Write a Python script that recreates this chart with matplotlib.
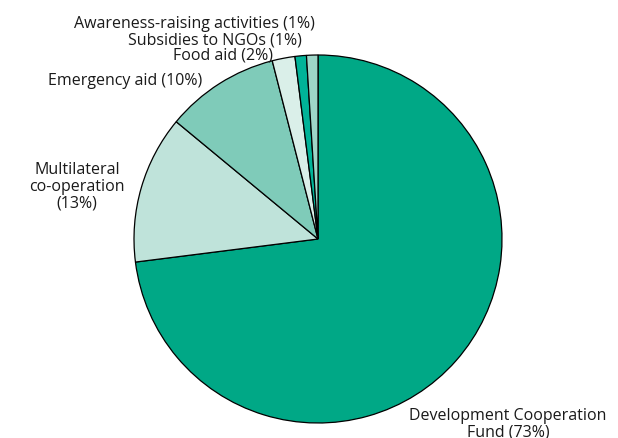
import matplotlib
matplotlib.use("Agg")
import matplotlib.pyplot as plt

# ------------------ Datos ------------------
categorias = ["Development Cooperation\nFund (73%)", "Multilateral\nco-operation\n(13%)",
              "Emergency aid (10%)", "Food aid (2%)", "Subsidies to NGOs (1%)",
              "Awareness-raising activities (1%)"]
valores = [73, 13, 10, 2, 1, 1]
colores = ["#00a886", "#bfe3da", "#7fcbb9", "#daefe9", "#00b398", "#9ed6c8"]

# posiciones de etiquetas (pixeles, y desde abajo) y alineacion
pos_etiquetas = [(508, 15, "center"), (77, 252, "center"), (202, 358, "right"),
                 (273, 384, "right"), (215, 399, "center"), (194, 415, "center")]

plt.rcParams["font.family"] = ["Open Sans", "DejaVu Sans"]

fig = plt.figure(figsize=(6.18, 4.39), dpi=100)
ax = fig.add_axes([0, 0, 1, 1])

ax.pie(valores, colors=colores, startangle=90, counterclock=False,
       center=(318, 199), radius=184, frame=True,
       wedgeprops=dict(edgecolor="black", linewidth=0.9))

for txt, (x, y, ha) in zip(categorias, pos_etiquetas):
    ax.text(x, y, txt, ha=ha, va="center", fontsize=11.5, color="#1a1a1a",
            linespacing=1.05, multialignment="center")

ax.set_xlim(0, 618)
ax.set_ylim(0, 439)
ax.set_aspect("equal")
ax.axis("off")

fig.savefig("out.png", dpi=100)
